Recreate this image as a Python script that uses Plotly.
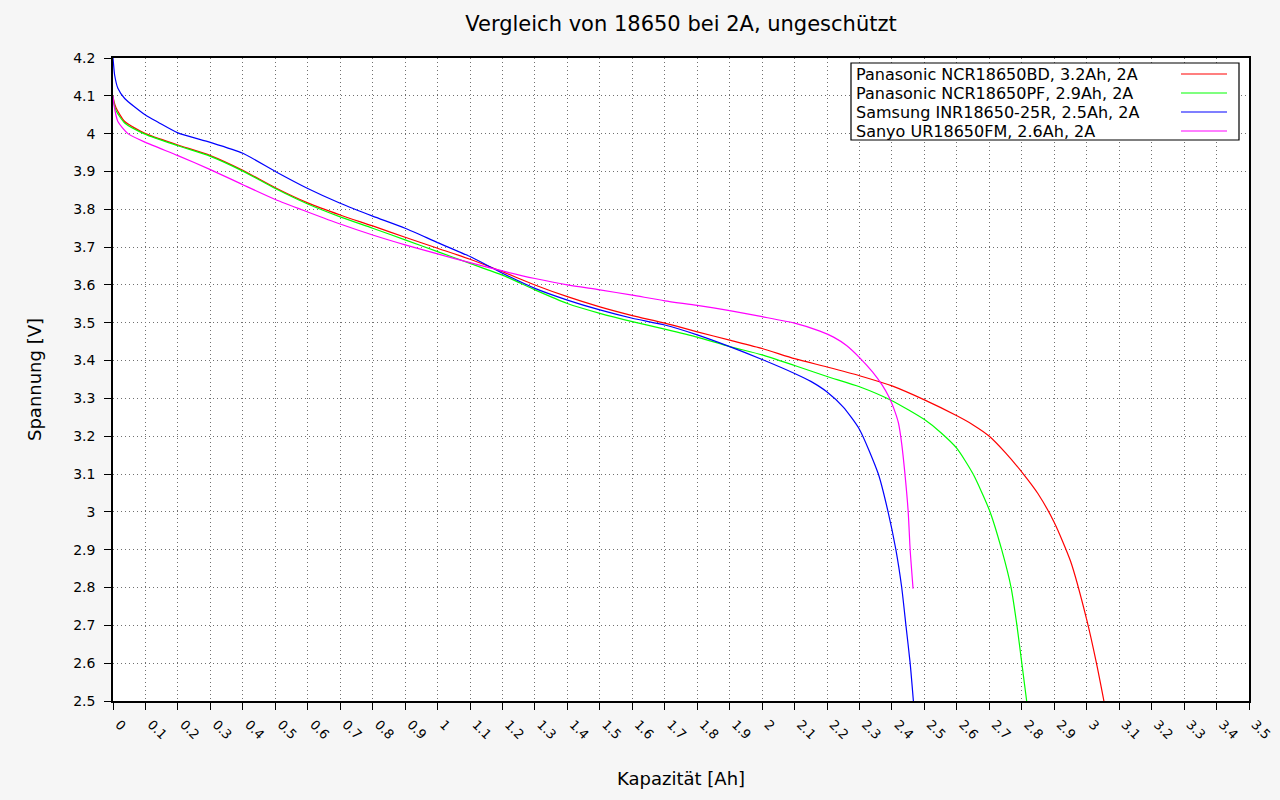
import plotly.graph_objects as go

# ---------------- data ----------------
bd_x = [0, 0.003, 0.01, 0.036, 0.1, 0.2, 0.3, 0.4, 0.5, 0.6, 0.7, 0.8, 0.9, 1.0, 1.1, 1.2, 1.3, 1.4,
        1.5, 1.6, 1.7, 1.8, 1.9, 2.0, 2.1, 2.2, 2.3, 2.4, 2.5, 2.6, 2.65, 2.7, 2.75, 2.805, 2.85,
        2.9, 2.95, 3.0, 3.03, 3.053]
bd_y = [4.10, 4.085, 4.067, 4.032, 4.0, 3.97, 3.942, 3.903, 3.857, 3.817, 3.785, 3.756, 3.726, 3.697,
        3.668, 3.635, 3.6, 3.569, 3.542, 3.519, 3.499, 3.476, 3.454, 3.432, 3.405, 3.383, 3.36, 3.333,
        3.296, 3.254, 3.23, 3.2, 3.156, 3.1, 3.048, 2.972, 2.87, 2.715, 2.6, 2.5]

pf_x = [0, 0.003, 0.01, 0.036, 0.1, 0.2, 0.3, 0.4, 0.5, 0.6, 0.7, 0.8, 0.9, 1.0, 1.1, 1.2, 1.3, 1.4,
        1.5, 1.6, 1.7, 1.8, 1.9, 2.0, 2.1, 2.2, 2.3, 2.4, 2.5, 2.55, 2.6, 2.65, 2.7, 2.738, 2.767,
        2.785, 2.8, 2.815]
pf_y = [4.10, 4.08, 4.06, 4.028, 3.998, 3.968, 3.940, 3.901, 3.855, 3.814, 3.78, 3.75, 3.719, 3.688,
        3.657, 3.626, 3.587, 3.551, 3.525, 3.503, 3.483, 3.462, 3.437, 3.415, 3.387, 3.358, 3.331,
        3.294, 3.244, 3.21, 3.168, 3.1, 3.005, 2.9, 2.8, 2.7, 2.6, 2.5]

r25_x = [0, 0.002, 0.005, 0.015, 0.036, 0.1, 0.139, 0.2, 0.3, 0.4, 0.5, 0.6, 0.7, 0.8, 0.9, 1.0, 1.1,
         1.2, 1.3, 1.4, 1.5, 1.6, 1.7, 1.8, 1.9, 2.0, 2.1, 2.15, 2.2, 2.25, 2.3, 2.358, 2.388,
         2.412, 2.43, 2.443, 2.456, 2.466]
r25_y = [4.2, 4.18, 4.155, 4.12, 4.093, 4.049, 4.03, 4.002, 3.977, 3.948, 3.9, 3.855, 3.816, 3.782,
         3.75, 3.712, 3.675, 3.631, 3.591, 3.56, 3.534, 3.512, 3.494, 3.468, 3.437, 3.403, 3.366,
         3.345, 3.317, 3.277, 3.218, 3.1, 3.0, 2.9, 2.8, 2.7, 2.6, 2.5]

fm_x = [0, 0.003, 0.015, 0.046, 0.1, 0.2, 0.3, 0.4, 0.5, 0.6, 0.7, 0.8, 0.9, 1.0, 1.1, 1.2, 1.3, 1.4,
        1.5, 1.6, 1.7, 1.8, 1.9, 2.0, 2.1, 2.178, 2.22, 2.26, 2.3, 2.34, 2.37, 2.39, 2.405, 2.42,
        2.43, 2.44, 2.45, 2.456, 2.465]
fm_y = [4.10, 4.076, 4.032, 4.0, 3.977, 3.942, 3.905, 3.865, 3.826, 3.793, 3.761, 3.732, 3.706, 3.682,
        3.659, 3.637, 3.617, 3.6, 3.587, 3.573, 3.558, 3.546, 3.532, 3.516, 3.499, 3.478, 3.462,
        3.44, 3.408, 3.37, 3.335, 3.305, 3.275, 3.235, 3.18, 3.1, 3.0, 2.9, 2.797]

series_names = ["Panasonic NCR18650BD, 3.2Ah, 2A", "Panasonic NCR18650PF, 2.9Ah, 2A",
                "Samsung INR18650-25R, 2.5Ah, 2A", "Sanyo UR18650FM, 2.6Ah, 2A"]
series_colors = ["#ff0000", "#00ff00", "#0000ff", "#ff00ff"]

x_tick_vals = [i / 10 for i in range(36)]
x_tick_text = ["0"] + [("%g" % (i / 10)) for i in range(1, 36)]
y_tick_vals = [2.5 + i / 10 for i in range(18)]
y_tick_text = [("%g" % round(2.5 + i / 10, 1)) for i in range(18)]

# ---------------- figure ----------------
FONT = "DejaVu Sans"
fig = go.Figure()
for xs, ys, nm, col in zip([bd_x, pf_x, r25_x, fm_x], [bd_y, pf_y, r25_y, fm_y], series_names, series_colors):
    fig.add_trace(go.Scatter(x=xs, y=ys, mode="lines", name=nm, showlegend=False,
                             line=dict(color=col, width=1.2, shape="spline", smoothing=0.6)))

L, R, T, B = 113, 31, 58, 99
W, H = 1280, 800
pw, ph = W - L - R, H - T - B

def px(xp):
    return (xp - L) / pw

def py(yp):
    return (H - B - yp) / ph

fig.update_layout(
    width=W, height=H,
    margin=dict(l=L, r=R, t=T, b=B, autoexpand=False),
    paper_bgcolor="#f6f6f6", plot_bgcolor="#ffffff",
    font=dict(family=FONT, color="#000000", size=14),
    title=dict(text="Vergleich von 18650 bei 2A, ungeschützt", x=0.5, xref="paper",
               y=1 - 24 / H, yanchor="middle", font=dict(size=21, family=FONT)),
    showlegend=False,
)
GRID = dict(showgrid=True, gridcolor="#707070", griddash="1px,3px", gridwidth=1, zeroline=False)
fig.update_xaxes(range=[0, 3.5], tickvals=x_tick_vals, ticktext=x_tick_text, tickangle=45,
                 ticks="outside", ticklen=7, tickcolor="#000", showline=True, linecolor="#000",
                 linewidth=1.5, mirror=True, tickfont=dict(size=13, family=FONT),
                 ticklabelshift=6, ticklabelstandoff=2, automargin=False, **GRID)
fig.update_yaxes(range=[2.5, 4.2], tickvals=y_tick_vals, ticktext=y_tick_text,
                 ticks="outside", ticklen=7, tickcolor="#000", showline=True, linecolor="#000",
                 linewidth=1.5, mirror=True, tickfont=dict(size=14, family=FONT),
                 ticklabelstandoff=6, automargin=False, **GRID)

annotations = [
    dict(text="Kapazität [Ah]", xref="paper", yref="paper", x=0.5, y=py(778),
         xanchor="center", yanchor="middle", showarrow=False, font=dict(size=18, family=FONT)),
    dict(text="Spannung [V]", xref="paper", yref="paper", x=px(34), y=py(380),
         xanchor="center", yanchor="middle", textangle=-90, showarrow=False,
         font=dict(size=18, family=FONT)),
]
shapes = [dict(type="rect", xref="paper", yref="paper", x0=px(851), x1=px(1239), y0=py(140), y1=py(63),
               line=dict(color="#000", width=1.2), fillcolor="#ffffff", layer="above")]
for i, (nm, col) in enumerate(zip(series_names, series_colors)):
    yy = 74 + i * 19
    annotations.append(dict(text=nm, xref="paper", yref="paper", x=px(854), y=py(yy),
                            xanchor="left", yanchor="middle", showarrow=False,
                            font=dict(size=16, family=FONT)))
    shapes.append(dict(type="line", xref="paper", yref="paper", x0=px(1181), x1=px(1227),
                       y0=py(yy), y1=py(yy), line=dict(color=col, width=1.2), layer="above"))
fig.update_layout(annotations=annotations, shapes=shapes)

fig.write_html("out.html")
